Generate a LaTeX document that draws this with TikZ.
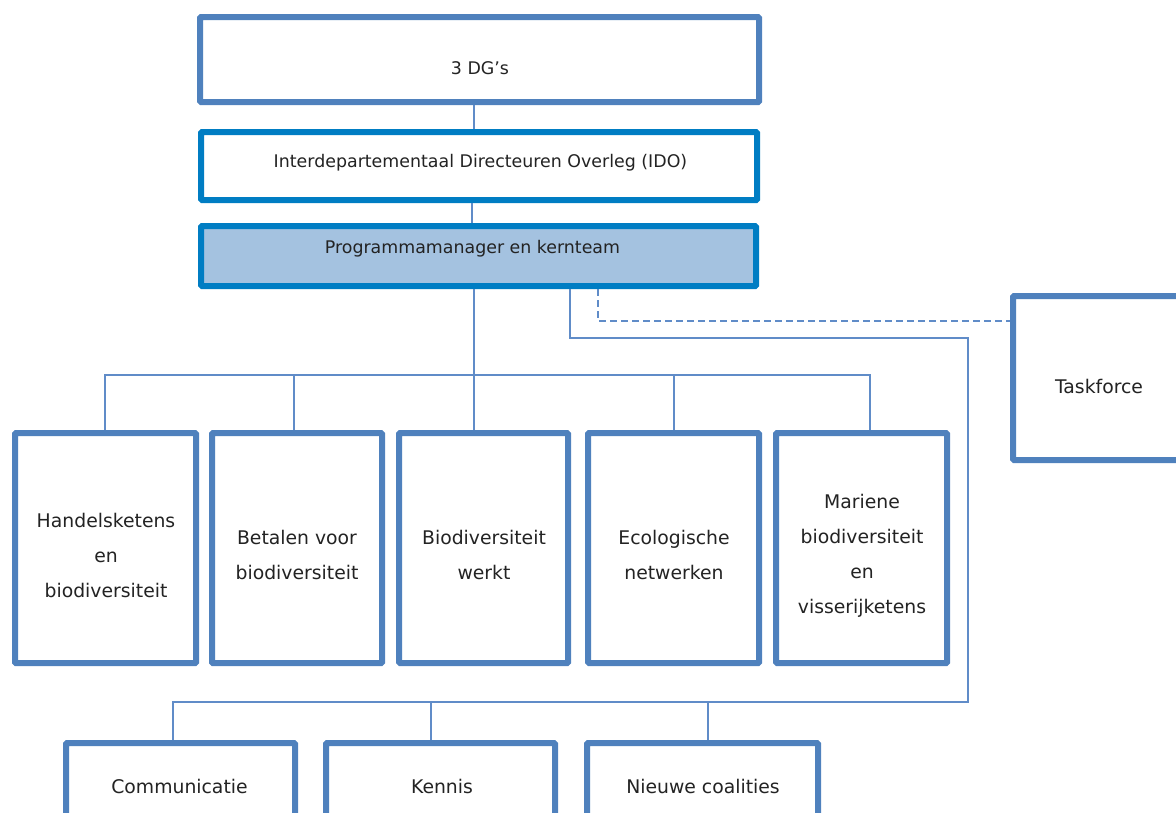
\documentclass[tikz,border=0pt]{standalone}
\usepackage{fontspec}
\setmainfont{DejaVu Sans}
\definecolor{boxblue}{RGB}{79,129,189}
\definecolor{darkblue}{RGB}{0,125,195}
\definecolor{pmfill}{RGB}{164,194,224}
\definecolor{linkblue}{RGB}{96,140,200}
\definecolor{txt}{RGB}{35,35,35}
\tikzset{
  box/.style={draw=boxblue,line width=6pt,fill=white,rounded corners=1pt,inner sep=0pt},
  dbox/.style={box,draw=darkblue},
  lbl/.style={text=txt,font={\fontsize{18.8}{35}\selectfont},align=center,inner sep=0pt},
  toplbl/.style={lbl,font={\fontsize{17.4}{35}\selectfont}},
  link/.style={draw=linkblue,line width=1.2pt},
  dlink/.style={link,dashed,dash pattern=on 7pt off 4pt}
}
\begin{document}
\begin{tikzpicture}[x=1pt,y=-1pt]
\useasboundingbox (0,0) rectangle (1176,812);
\clip (0,0) rectangle (1176,812);
% top boxes
\node[box,minimum width=559pt,minimum height=85pt] (dg) at (479.5,59.5) {};
\node[dbox,minimum width=556pt,minimum height=68pt] (ido) at (479,166) {};
\node[dbox,fill=pmfill,minimum width=555pt,minimum height=60pt] (pm) at (478.5,256) {};
\node[box,minimum width=184pt,minimum height=164pt] (tf) at (1105,378) {};
% middle boxes
\node[box,minimum width=181pt,minimum height=230pt] (m1) at (105.5,548) {};
\node[box,minimum width=170pt,minimum height=230pt] (m2) at (297,548) {};
\node[box,minimum width=169pt,minimum height=230pt] (m3) at (483.5,548) {};
\node[box,minimum width=171pt,minimum height=230pt] (m4) at (673.5,548) {};
\node[box,minimum width=171pt,minimum height=230pt] (m5) at (861.5,548) {};
% bottom boxes
\node[box,minimum width=229pt,minimum height=134pt] (b1) at (180.5,810) {};
\node[box,minimum width=229pt,minimum height=134pt] (b2) at (440.5,810) {};
\node[box,minimum width=231pt,minimum height=134pt] (b3) at (702.5,810) {};
% texts
\node[toplbl] (tdg) at (480,68) {3 DG’s};
\node[toplbl] (tido) at (480.5,163) {Interdepartementaal Directeuren Overleg (IDO)};
\node[toplbl] (tpm) at (472.5,249) {Programmamanager en kernteam};
\node[lbl] (ttf) at (1099,386) {Taskforce};
\node[lbl] (tm1) at (106,555) {Handelsketens\\en\\biodiversiteit};
\node[lbl] (tm2) at (297,555) {Betalen voor\\biodiversiteit};
\node[lbl] (tm3) at (484,555) {Biodiversiteit\\werkt};
\node[lbl] (tm4) at (674,555) {Ecologische\\netwerken};
\node[lbl] (tm5) at (862,556) {Mariene\\biodiversiteit\\en\\visserijketens};
\node[lbl] (tb1) at (179.5,786) {Communicatie};
\node[lbl] (tb2) at (442,786) {Kennis};
\node[lbl] (tb3) at (703,786) {Nieuwe coalities};
% connectors
\coordinate (c1) at (474,0);
\draw[link] (c1 |- dg.south) -- (c1 |- ido.north);
\coordinate (c2) at (472,0);
\draw[link] (c2 |- ido.south) -- (c2 |- pm.north);
% bus to middle boxes
\coordinate (hb) at (0,375);
\coordinate (x1) at (105,0);
\coordinate (x2) at (294,0);
\coordinate (x3) at (474,0);
\coordinate (x4) at (674,0);
\coordinate (x5) at (870,0);
\draw[link] (x3 |- pm.south) -- (x3 |- m3.north);
\draw[link] (x1 |- m1.north) -- (x1 |- hb) -- (x5 |- hb) -- (x5 |- m5.north);
\draw[link] (x2 |- hb) -- (x2 |- m2.north);
\draw[link] (x4 |- hb) -- (x4 |- m4.north);
% route to bottom boxes
\coordinate (r1) at (570,338);
\coordinate (r2) at (968,702);
\coordinate (y1) at (173,0);
\coordinate (y2) at (431,0);
\coordinate (y3) at (708,0);
\draw[link] (r1 |- pm.south) -- (r1) -- (r1 -| r2) -- (r2) -- (y1 |- r2) -- (y1 |- b1.north);
\draw[link] (y2 |- r2) -- (y2 |- b2.north);
\draw[link] (y3 |- r2) -- (y3 |- b3.north);
% dashed to taskforce
\coordinate (d1) at (598,321);
\draw[dlink] (d1 |- pm.south) -- (d1) -- (d1 -| tf.west);
\end{tikzpicture}
\end{document}
